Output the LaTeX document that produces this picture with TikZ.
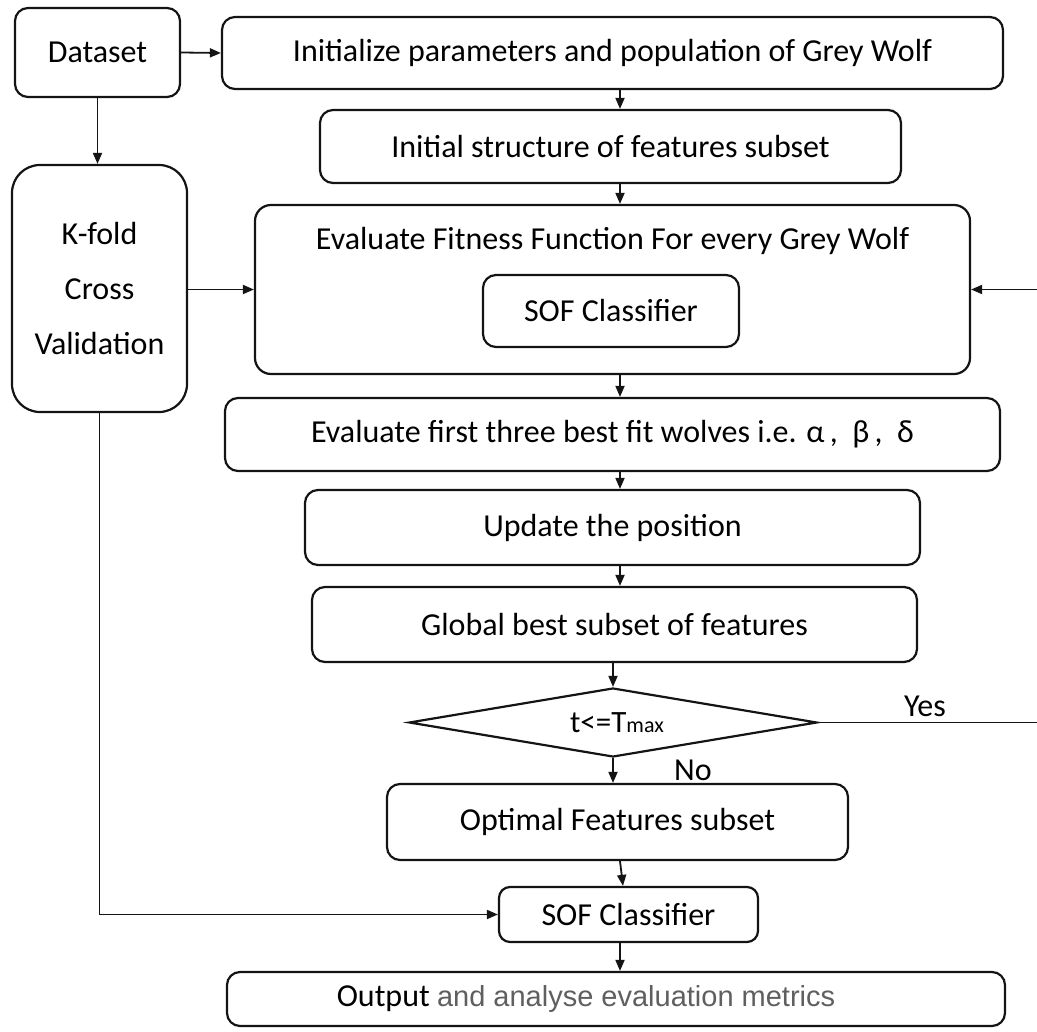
\documentclass[tikz,border=0pt]{standalone}
\usepackage{fontspec}
\setmainfont{Carlito}
\newfontfamily\grayfont{Liberation Sans}
\usetikzlibrary{arrows.meta}
\usetikzlibrary{positioning,shapes.geometric,calc}
\definecolor{flowblack}{RGB}{20,20,20}
\definecolor{metricgray}{RGB}{95,95,95}
\tikzset{
  flowbox/.style={draw=flowblack,line width=2.2pt,rounded corners=13pt,
    inner sep=0pt,font=\fontsize{32}{38}\selectfont},
  flowarrow/.style={draw=flowblack,line width=1.8pt,
    -{Triangle[length=11pt,width=9pt]}},
  flowtext/.style={font=\fontsize{32}{38}\selectfont}
}

\begin{document}
\begin{tikzpicture}[x=1pt,y=-1pt]
    \useasboundingbox (0,0) rectangle (1037,1032);
    % left column
    \node[flowbox,minimum width=165pt,minimum height=89pt] (dataset)
          at (97.5,52.5) {Dataset};
    \node[flowbox,rounded corners=28pt,minimum width=175pt,minimum height=247pt,
          align=center,font=\fontsize{32}{55}\selectfont] (kfold)
          at (99.5,288.5) {K-fold\\Cross\\Validation};
    % main flow
    \node[flowbox,minimum width=781pt,minimum height=72pt] (init)
          at (612.5,53) {Initialize parameters and population of Grey Wolf};
    \node[flowbox,minimum width=581pt,minimum height=73pt] (initsub)
          at (610.5,146.5) {Initial structure of features subset};
    \node[flowbox,rounded corners=16pt,minimum width=715pt,minimum height=169pt] (fitness)
          at (612.5,289.5) {};
    \node[flowtext] (fittitle) at (612.5,241)
          {Evaluate Fitness Function For every Grey Wolf};
    \node[flowbox,minimum width=256pt,minimum height=72pt] (sofin)
          at (611,311) {SOF Classifier};
    \node[flowbox,minimum width=775pt,minimum height=73pt] (bestfit)
          at (612.5,434.5) {Evaluate first three best fit wolves i.e. α\,,\ \ β\,,\ \ δ};
    \node[flowbox,minimum width=615pt,minimum height=75pt] (update)
          at (612.5,527.5) {Update the position};
    \node[flowbox,minimum width=605pt,minimum height=75pt] (globalbest)
          at (614.5,624.5) {Global best subset of features};
    \node[diamond,draw=flowblack,line width=2.2pt,inner sep=0pt,aspect=5.9,
          minimum width=408pt,minimum height=69pt,
          font=\fontsize{31}{36}\selectfont] (check)
          at (613,722.5) {\hspace{8pt}t<=T{\fontsize{22}{26}\selectfont max}};
    \node[flowbox,minimum width=461pt,minimum height=76pt] (optimal)
          at (617.5,822) {Optimal Features subset};
    \node[flowbox,rounded corners=11pt,minimum width=259pt,minimum height=55pt] (sofout)
          at (628.5,914.5) {SOF Classifier};
    \node[flowbox,minimum width=778pt,minimum height=54pt] (output)
          at (616,999) {};
    \node[flowtext] (outtext) at (586,999)
          {Output {\grayfont\color{metricgray}\fontsize{29}{34}\selectfont and analyse evaluation metrics}};
    % branch labels
    \node[flowtext] (yes) at (925,706) {Yes};
    \node[flowtext] (no) at (693,770) {No};
    % loop points beyond the right edge
    \coordinate (loopb) at (1040,722.5);
    \coordinate (loopt) at (1040,289.5);
    \coordinate (col) at (620,0);
    % connectors
    \draw[flowarrow] (dataset.east) -- (init.west);
    \draw[flowarrow] (dataset.south) -- (dataset.south |- kfold.north);
    \draw[flowarrow] (kfold.east |- fitness.west) -- (fitness.west);
    \draw[flowarrow] (kfold.south) |- (sofout.west);
    \draw[flowarrow] (init.south -| col) -- (initsub.north -| col);
    \draw[flowarrow] (initsub.south -| col) -- (fitness.north -| col);
    \draw[flowarrow] (fitness.south -| col) -- (bestfit.north -| col);
    \draw[flowarrow] (bestfit.south -| col) -- (update.north -| col);
    \draw[flowarrow] (update.south -| col) -- (globalbest.north -| col);
    \draw[flowarrow] (globalbest.south -| check.north) -- (check.north);
    \draw[flowarrow] (check.south) -- (check.south |- optimal.north);
    \draw[flowarrow] (optimal.south -| col) -- ($(sofout.north -| col)+(3,0)$);
    \draw[flowarrow] (sofout.south -| col) -- (output.north -| col);
    \draw[flowarrow] (check.east) -- (loopb) -- (loopt) -- (fitness.east);
\end{tikzpicture}
\end{document}
